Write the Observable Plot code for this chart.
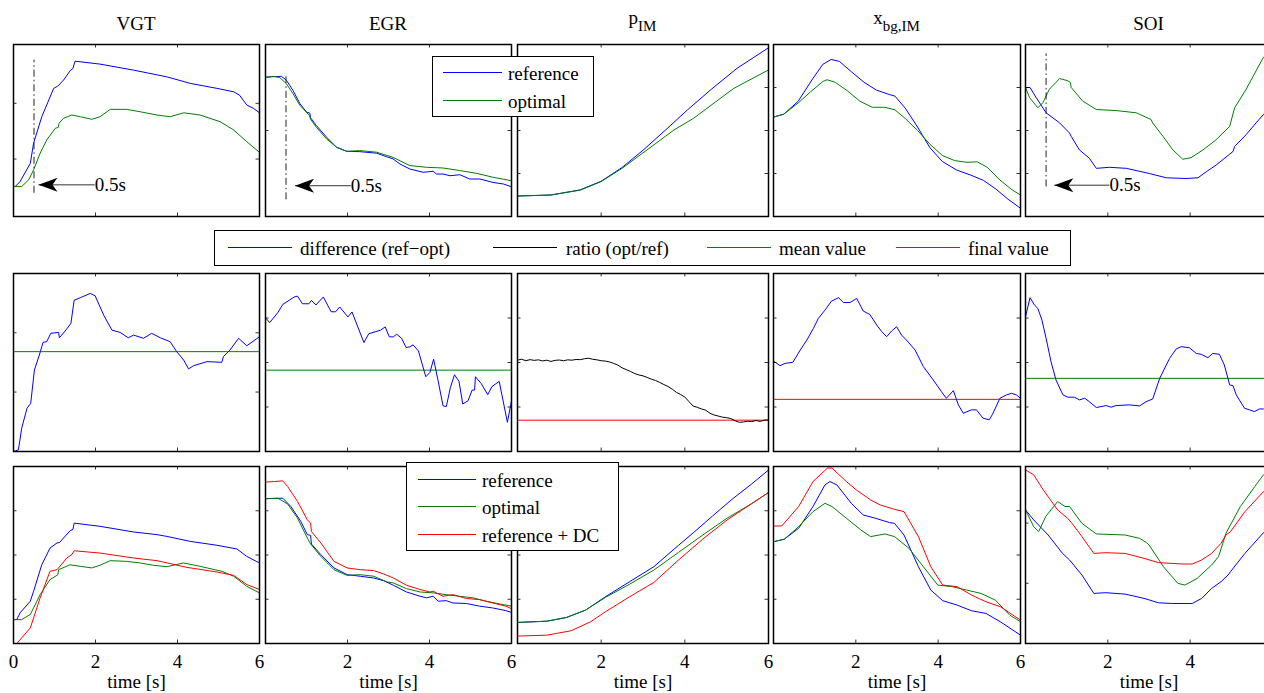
<!DOCTYPE html>
<html><head><meta charset="utf-8">
<script src="https://cdn.jsdelivr.net/npm/d3@7"></script>
<script src="https://cdn.jsdelivr.net/npm/@observablehq/plot@0.6"></script>
<style>
html,body{margin:0;padding:0;background:#fff;}
#fig{position:relative;width:1264px;height:693px;overflow:hidden;font-family:"Liberation Serif","Times New Roman",serif;color:#000;background:#fff;}
.title{position:absolute;font-size:19px;line-height:19px;white-space:nowrap;transform:translateX(-50%);}
.sub{font-size:15px;position:relative;top:7px;}
.legend{position:absolute;background:#fff;border:1px solid #000;box-sizing:border-box;}
.swatch{position:absolute;height:1px;}
.ltext{position:absolute;font-size:19px;line-height:19px;white-space:nowrap;}
</style></head><body><div id="fig"></div><script>
// ---------------- data (time [s], normalized signal 0..100) ----------------
const columnTitles = ["VGT", "EGR", "p|IM", "x|bg,IM", "SOI"];

// row 1: reference vs optimal
const vgtRef = [[0,17.4],[0.05,17.6],[0.16,20.3],[0.41,30.9],[0.49,42.6],[0.69,58.0],[0.98,74.5],[1.08,75.8],[1.22,79.3],[1.38,84.7],[1.45,86.1],[1.50,90.3],[2.11,88.6],[2.93,85.1],[3.74,81.2],[4.31,77.4],[4.96,74.5],[5.37,72.5],[5.51,70.6],[5.69,64.8],[5.85,62.9],[6.0,60.3]];
const vgtOpt = [[0,17.4],[0.2,17.4],[0.37,21.3],[0.49,27.1],[0.65,36.8],[0.81,44.5],[1.02,51.3],[1.09,51.8],[1.11,54.2],[1.22,57.1],[1.42,59.0],[1.63,58.0],[1.91,56.5],[2.11,58.0],[2.36,62.3],[2.76,62.3],[3.09,60.9],[3.50,59.0],[3.82,58.0],[4.15,60.3],[4.55,59.0],[5.04,55.1],[5.37,50.3],[5.69,43.5],[6.0,37.3]];
const egrRef = [[0,81.1],[0.39,81.5],[0.51,79.2],[0.67,73.3],[0.84,65.6],[1.0,60.7],[1.08,60.1],[1.10,57.4],[1.24,52.9],[1.49,46.1],[1.73,40.3],[1.98,37.9],[2.30,37.7],[2.71,36.8],[2.95,34.8],[3.11,33.5],[3.28,30.5],[3.52,27.6],[3.85,25.7],[4.09,26.3],[4.17,24.7],[4.33,24.7],[4.50,23.7],[4.74,24.3],[4.98,21.8],[5.23,21.8],[5.55,19.8],[5.80,18.9],[6.0,17.3]];
const egrOpt = [[0,80.7],[0.19,81.5],[0.35,80.7],[0.51,77.2],[0.67,71.4],[0.84,64.6],[1.07,58.8],[1.10,56.5],[1.24,51.9],[1.49,45.1],[1.73,40.3],[1.98,37.9],[2.30,38.3],[2.71,37.4],[3.11,34.4],[3.52,29.6],[3.93,28.6],[4.33,28.2],[4.74,26.7],[5.15,25.1],[5.55,22.8],[6.0,20.8]];
const pimRef = [[0,11.9],[0.8,12.5],[1.5,15.5],[2.0,20.5],[2.5,28.5],[3.0,38.5],[3.54,50.3],[4.06,61.9],[4.61,73.5],[5.25,86.2],[6.0,98.1]];
const pimOpt = [[0,11.9],[0.8,12.5],[1.5,15.3],[2.0,20.3],[2.5,28.0],[3.0,37.0],[3.74,50.3],[4.21,57.1],[5.17,74.5],[6.0,85.2]];
const xbgRef = [[0,57.8],[0.25,59.5],[0.6,67],[0.95,80],[1.2,88.5],[1.4,91.3],[1.6,90.2],[1.9,84],[2.2,78],[2.5,73.5],[2.8,71],[2.95,70],[3.2,63],[3.5,52],[3.8,40],[4.1,32],[4.45,27],[4.8,24],[5.1,21],[5.4,16],[5.7,10],[6,4.8]];
const xbgOpt = [[0,57.8],[0.25,59.5],[0.6,66],[0.9,72.5],[1.2,78.5],[1.3,79.5],[1.5,78],[1.8,73],[2.1,67],[2.4,63.5],[2.7,63.5],[2.95,62],[3.2,57],[3.5,50],[3.8,42],[4.1,35.5],[4.4,32.5],[4.7,31.5],[4.95,31.8],[5.2,28.5],[5.5,21.2],[5.8,15.4],[6,12.5]];
const soiRef = [[0,75],[0.11,75],[0.26,69.1],[0.50,60.3],[0.83,54.4],[1.07,48.5],[1.11,46.6],[1.31,38.7],[1.55,33.9],[1.72,28.0],[2.04,28.6],[2.45,28.0],[3.01,25.0],[3.42,22.5],[3.90,22.1],[4.19,22.5],[4.39,26.0],[4.63,29.9],[5.04,37.8],[5.08,40.7],[5.36,47.6],[5.60,54.4],[5.78,59.3],[6,65]];
const soiOpt = [[0,75],[0.1,69.1],[0.30,63.2],[0.42,66.1],[0.58,74.0],[0.83,80.2],[1.03,78.9],[1.09,77.9],[1.11,75],[1.39,67.1],[1.72,62.2],[2.20,61.6],[2.69,60.3],[3.05,56.4],[3.09,54.4],[3.34,46.6],[3.58,38.7],[3.82,33.3],[4.02,34.2],[4.31,38.7],[4.63,44.6],[4.96,52.4],[5.08,63.2],[5.36,74.0],[5.78,92.6],[6,97]];

// row 2: difference / ratio with mean or final value
const vgtDiff = [[0,0],[0.12,0.9],[0.2,13.1],[0.33,24.3],[0.42,27.1],[0.51,45.8],[0.63,54.2],[0.72,61.3],[0.81,61.7],[0.91,66.4],[1.10,66.9],[1.12,63.9],[1.26,67.7],[1.40,72.0],[1.48,85.0],[1.63,86.4],[1.87,88.8],[1.99,87.5],[2.20,76.6],[2.40,68.2],[2.60,66.9],[2.80,63.9],[2.93,65.4],[3.17,63.6],[3.37,66.4],[3.58,63.9],[3.82,61.7],[3.98,56.1],[4.15,51.4],[4.27,46.4],[4.39,48.2],[4.72,50.5],[5.08,50.1],[5.12,53.3],[5.28,57.0],[5.49,63.6],[5.69,59.4],[6.0,64.5]];
const vgtMean = 56.1;
const egrDiff = [[0,75.2],[0.10,72.4],[0.30,78.0],[0.42,82.6],[0.70,86.8],[0.78,87.3],[0.90,83.0],[1.06,83.0],[1.12,84.9],[1.23,82.3],[1.41,86.8],[1.60,78.5],[1.71,78.5],[1.81,81.2],[2.01,75.6],[2.11,78.4],[2.40,61.2],[2.52,66.2],[2.80,68.1],[2.92,70.0],[3.02,64.4],[3.12,64.4],[3.20,65.9],[3.32,63.6],[3.43,58.4],[3.52,58.8],[3.60,59.9],[3.73,56.5],[3.91,42.0],[4.01,44.4],[4.10,51.9],[4.21,39.7],[4.33,25.7],[4.41,25.2],[4.51,36.0],[4.61,43.1],[4.72,39.4],[4.81,26.7],[4.94,28.5],[5.04,34.5],[5.10,34.5],[5.12,42.0],[5.26,38.2],[5.42,31.9],[5.52,36.4],[5.70,39.4],[5.90,16.4],[6.0,28.5]];
const egrMean = 45.7;
const pimRatio = [[0,51.4],[0.1,51.8],[0.2,51.0],[0.3,51.6],[0.4,51.2],[0.5,51.5],[0.6,50.9],[0.7,51.3],[0.8,50.6],[0.9,51.2],[1.0,51.4],[1.1,51.0],[1.2,51.5],[1.3,51.3],[1.4,51.7],[1.5,51.6],[1.6,52.1],[1.7,52.4],[1.8,51.8],[1.9,51.5],[2.0,51.0],[2.1,50.8],[2.2,50.3],[2.3,49.5],[2.4,48.5],[2.5,47.0],[2.6,46.0],[2.7,45.0],[2.8,43.8],[2.9,43.0],[3.0,42.5],[3.1,41.6],[3.2,40.6],[3.3,39.9],[3.4,38.8],[3.5,37.6],[3.6,36.5],[3.7,35.0],[3.8,33.2],[3.9,32.0],[4.0,30.6],[4.1,28.0],[4.2,25.5],[4.3,24.8],[4.4,23.9],[4.5,23.2],[4.6,21.5],[4.7,20.5],[4.8,19.9],[4.9,19.3],[5.0,19.0],[5.1,18.5],[5.2,17.3],[5.3,16.4],[5.4,16.6],[5.5,17.0],[5.6,16.8],[5.7,17.4],[5.8,16.9],[5.9,17.6],[6.0,17.8]];
const pimFinal = 17.6;
const xbgDiff = [[0,50.8],[0.16,48.2],[0.28,49.5],[0.47,50.1],[0.65,57.0],[0.81,62.6],[0.97,69.2],[1.09,74.8],[1.25,79.4],[1.41,84.5],[1.58,86.4],[1.70,83.7],[1.86,83.7],[2.02,86.0],[2.18,78.9],[2.34,77.0],[2.51,71.0],[2.63,67.3],[2.75,64.5],[2.87,67.7],[2.99,70.1],[3.11,65.4],[3.23,62.6],[3.44,57.0],[3.64,47.7],[3.88,40.2],[4.08,33.6],[4.20,29.9],[4.37,34.2],[4.49,26.2],[4.61,21.5],[4.81,23.4],[4.93,23.4],[5.09,18.7],[5.24,17.8],[5.32,20.9],[5.50,29.9],[5.66,31.8],[5.78,32.7],[5.90,31.8],[6.0,29.9]];
const xbgFinal = 29.3;
const soiDiff = [[0,75.7],[0.11,86.4],[0.22,82.2],[0.30,80.4],[0.40,73.8],[0.50,63.6],[0.62,50.5],[0.74,40.2],[0.91,31.8],[1.03,30.5],[1.19,30.5],[1.31,29.0],[1.44,29.9],[1.55,28.0],[1.72,24.7],[1.96,25.8],[2.08,24.9],[2.20,25.8],[2.53,26.2],[2.77,25.6],[2.93,28.0],[3.09,29.5],[3.26,41.1],[3.50,52.3],[3.66,57.6],[3.78,58.9],[3.98,58.3],[4.15,55.1],[4.27,54.6],[4.43,52.7],[4.55,55.1],[4.71,54.6],[4.83,48.6],[4.96,37.4],[5.04,37.0],[5.12,31.8],[5.32,24.3],[5.44,23.4],[5.56,22.4],[5.68,23.9],[5.78,23.9],[6,24.0]];
const soiMean = 41.1;

// row 3: reference, optimal, reference + DC
const vgt3Ref = [[0,13.5],[0.08,13.5],[0.16,17.3],[0.41,23.9],[0.49,29.5],[0.69,44.5],[0.89,53.9],[1.06,56.8],[1.12,57.0],[1.22,59.6],[1.38,63.7],[1.45,64.5],[1.48,68.0],[2.11,66.2],[2.93,63.0],[3.50,61.5],[3.74,60.5],[4.31,57.7],[4.96,55.5],[5.45,53.4],[5.69,49.2],[6,45.5]];
const vgt3Opt = [[0,13.5],[0.2,13.5],[0.41,16.4],[0.65,27.6],[0.89,36.1],[1.06,38.5],[1.08,38.8],[1.10,41.7],[1.38,44.5],[1.63,43.6],[1.91,42.7],[2.11,44.2],[2.36,46.8],[2.76,46.4],[3.09,45.5],[3.41,44.2],[3.74,43.4],[4.15,45.5],[4.55,43.6],[5.08,40.8],[5.37,38.0],[5.69,32.3],[6,28.6]];
const vgt3Dc = [[0,-3],[0.08,0],[0.41,8.8],[0.65,25.8],[0.89,40.8],[1.06,41.7],[1.10,42.7],[1.30,48.3],[1.42,50.2],[1.48,52.4],[2.11,51.1],[2.93,48.3],[3.50,46.8],[4.23,43.0],[4.96,40.4],[5.37,38.5],[5.69,33.3],[6,30.5]];
const egr3Ref = [[0,81.8],[0.42,82.1],[0.62,77.4],[0.86,69.0],[1.02,61.5],[1.10,61.1],[1.12,56.2],[1.35,50.2],[1.67,42.7],[1.99,38.9],[2.31,38.0],[2.64,37.0],[2.88,35.5],[3.12,32.9],[3.44,29.1],[3.77,26.7],[3.93,25.8],[4.09,26.7],[4.21,23.9],[4.41,24.2],[4.57,22.9],[4.90,22.6],[5.22,21.1],[5.54,20.1],[5.86,18.6],[6,17.5]];
const egr3Opt = [[0,81.8],[0.30,82.1],[0.54,78.8],[0.78,70.9],[1.02,59.6],[1.10,56.2],[1.35,49.2],[1.67,41.7],[1.99,38.5],[2.31,38.9],[2.64,38.0],[2.96,34.8],[3.12,34.2],[3.44,31.0],[3.77,29.1],[4.09,28.6],[4.41,27.6],[4.73,26.7],[5.06,25.8],[5.38,23.9],[5.70,22.4],[6,21.1]];
const egr3Dc = [[0,91.2],[0.22,91.5],[0.42,91.9],[0.54,88.7],[0.78,80.3],[1.02,69.9],[1.10,68.0],[1.12,63.3],[1.35,56.8],[1.67,46.4],[1.99,42.7],[2.31,41.7],[2.64,41.2],[2.88,39.3],[3.12,37.0],[3.44,32.9],[3.77,30.5],[4.01,29.1],[4.09,29.5],[4.33,26.7],[4.57,27.6],[4.90,25.4],[5.22,24.8],[5.54,22.9],[5.86,21.1],[6,19.7]];
const pim3Ref = [[0,11.9],[0.70,12.6],[1.17,14.7],[1.63,18.9],[2.10,26.4],[2.68,34.9],[3.26,43.4],[3.85,55.5],[4.20,62.5],[4.66,72.0],[5.13,81.5],[5.59,90.0],[6,98.0]];
const pim3Opt = [[0,11.9],[0.70,12.6],[1.17,14.7],[1.63,18.9],[2.10,26.0],[2.68,33.5],[3.26,41.5],[3.85,51.5],[4.43,61.3],[5.01,70.8],[5.59,78.9],[6,85.3]];
const pim3Dc = [[0,4.2],[0.70,4.7],[1.28,7.2],[1.75,12.3],[2.10,17.9],[2.68,26.4],[3.26,34.5],[3.85,47.2],[4.43,59.0],[5.01,69.8],[5.59,78.9],[6,85.3]];
const xbg3Ref = [[0,57.5],[0.26,58.9],[0.61,65.1],[0.96,77.4],[1.25,89.6],[1.37,91.5],[1.54,89.6],[1.89,79.2],[2.18,72.6],[2.47,70.8],[2.82,68.3],[2.94,67.9],[3.17,61.3],[3.52,43.4],[3.82,30.2],[4.11,24.2],[4.46,21.7],[4.81,18.5],[5.16,17.0],[5.51,12.3],[6,4.7]];
const xbg3Opt = [[0,57.5],[0.26,58.9],[0.61,66.0],[0.96,74.5],[1.25,79.2],[1.42,77.4],[1.77,70.8],[2.12,64.2],[2.36,60.4],[2.71,61.9],[2.94,60.4],[3.29,53.8],[3.64,43.4],[3.99,33.0],[4.34,32.1],[4.69,30.2],[5.04,28.3],[5.39,24.5],[5.74,16.0],[6,12.3]];
const xbg3Dc = [[0,66.4],[0.20,66.4],[0.61,77.4],[0.96,91.5],[1.31,99.1],[1.42,99.1],[1.77,91.5],[2.01,86.8],[2.36,81.1],[2.59,78.3],[2.94,75.8],[3.17,74.5],[3.52,60.4],[3.82,43.4],[4.11,33.0],[4.46,32.1],[4.81,27.4],[5.16,23.6],[5.51,20.8],[6,13.2]];
const soi3Ref = [[0,75.5],[0.20,69.8],[0.55,61.3],[0.90,50.9],[1.07,47.2],[1.37,38.7],[1.66,28.3],[1.95,28.7],[2.42,27.9],[2.88,25.5],[3.23,23.0],[3.58,22.6],[4.05,22.6],[4.28,25.5],[4.52,31.1],[4.75,34.9],[4.92,38.7],[4.98,40.6],[5.33,50.9],[5.78,62.6],[6,68]];
const soi3Opt = [[0,75.5],[0.20,66.0],[0.32,63.2],[0.49,71.7],[0.78,80.2],[0.96,77.4],[1.07,77.4],[1.37,67.9],[1.72,61.9],[2.42,61.3],[2.77,59.4],[2.94,57.0],[3.0,55.7],[3.35,43.4],[3.70,34.0],[3.87,33.0],[4.17,36.8],[4.52,44.3],[4.69,49.1],[4.87,62.3],[5.22,77.4],[5.57,88.7],[5.78,95.3],[6,99]];
const soi3Dc = [[0,98.1],[0.20,95.3],[0.43,86.8],[0.78,75.5],[1.02,70.8],[1.13,67.9],[1.37,60.4],[1.66,50.9],[1.95,51.3],[2.42,50.9],[2.88,48.1],[3.23,45.7],[3.82,44.9],[4.05,44.9],[4.28,47.2],[4.52,50.9],[4.75,56.6],[4.87,61.3],[4.98,63.2],[5.33,74.5],[5.78,85.8],[6,90]];

// tick values
const xTickMarks = [2, 4];
const xTickLabelsFirst = [0, 2, 4, 6];
const xTickLabelsOther = [2, 4, 6];
const yTicksRow1 = [[33.4, 65.8], [50], [25, 50, 75], [25, 50, 75], [25, 50, 75]];
const yTicksRow2 = [[33.4, 66.7], [25, 50, 75], [25, 50, 75], [25, 50, 75], [25, 50, 75]];
const yTicksRow3 = [[25, 50, 75], [25, 50, 75], [25, 50, 75], [25, 50, 75], [34, 68]];

// 0.5 s annotation (VGT, EGR, SOI in row 1)
const cueColumns = [0, 1, 4];
const cueTime = [0.5, 0.5, 0.5];
const cueSpan = [[13.5, 90.9], [9.7, 82.1], [17.2, 94.5]];
const cueTip = [0.61, 0.72, 0.70];
const cueLevel = [18.4, 17.9, 18.2];
const cueTextAt = [1.98, 2.08, 2.04];
const cueLabel = "0.5s";

// legends
const legendTop = ["reference", "optimal"];
const legendMid = ["difference (ref\u2212opt)", "ratio (opt/ref)", "mean value", "final value"];
const legendBottom = ["reference", "optimal", "reference + DC"];
const xLabel = "time [s]";

// ---------------- layout & style ----------------
const BLUE = "#0000ff", GREEN = "#008000", RED = "#ff0000", BLACK = "#000000";
const colLeft = [13, 265, 517, 773, 1025];
const colWidth = [246, 246, 251, 247, 247];
const rowTop = [44, 273, 466];
const rowHeight = [172, 178, 177];
const M = 4, TICK = 3.5;
const FONT = '"Liberation Serif", "Times New Roman", serif';
const fig = document.getElementById("fig");

const arrowHead = {draw(ctx) {
  ctx.moveTo(0, 0); ctx.lineTo(19, -7); ctx.lineTo(14, 0); ctx.lineTo(19, 7); ctx.closePath();
}};

function panel(row, col, series, rules, yTicks) {
  const w = colWidth[col], h = rowHeight[row];
  const marks = [];
  for (const r of rules) marks.push(Plot.ruleY([r[0]], {stroke: r[1], strokeWidth: 1}));
  for (const s of series) marks.push(Plot.line(s[0], {x: d => d[0], y: d => d[1], stroke: s[1], strokeWidth: 1, clip: true}));
  const ci = row === 0 ? cueColumns.indexOf(col) : -1;
  if (ci >= 0) {
    const cue = [{t: cueTime[ci], lo: cueSpan[ci][0], hi: cueSpan[ci][1], tip: cueTip[ci], y: cueLevel[ci], tx: cueTextAt[ci]}];
    marks.push(Plot.ruleX(cue, {x: "t", y1: "lo", y2: "hi", stroke: "#222", strokeWidth: 1, strokeDasharray: "7,3,1.5,3"}));
    marks.push(Plot.link(cue, {x1: "tip", x2: "tx", y1: "y", y2: "y", stroke: "#333", strokeWidth: 1}));
    marks.push(Plot.dot(cue, {x: "tip", y: "y", symbol: arrowHead, fill: "black", stroke: "none"}));
    marks.push(Plot.text(cue, {x: "tx", y: "y", text: () => cueLabel, textAnchor: "start", fontSize: 19, fontFamily: FONT}));
  }
  marks.push(Plot.tickX(xTickMarks, {insetTop: h - TICK, stroke: "black", strokeWidth: 0.8}));
  marks.push(Plot.tickX(xTickMarks, {insetBottom: h - TICK, stroke: "black", strokeWidth: 0.8}));
  marks.push(Plot.tickY(yTicks, {insetRight: w - TICK, stroke: "black", strokeWidth: 0.8}));
  marks.push(Plot.tickY(yTicks, {insetLeft: w - TICK, stroke: "black", strokeWidth: 0.8}));
  marks.push(Plot.frame({stroke: "black", strokeWidth: 1.5}));
  const bottom = row === 2;
  if (bottom) {
    marks.push(Plot.axisX(col === 0 ? xTickLabelsFirst : xTickLabelsOther, {anchor: "bottom", tickSize: 0, tickPadding: 10.5, fontSize: 19, fontFamily: FONT, label: null}));
    marks.push(Plot.text([xLabel], {frameAnchor: "bottom", dy: 44, text: d => d, fontSize: 19, fontFamily: FONT}));
  }
  const svg = Plot.plot({
    width: w + 2 * M, height: h + 2 * M,
    marginLeft: M, marginRight: M, marginTop: M, marginBottom: M,
    x: {domain: [0, 6], ...(bottom ? {} : {axis: null})},
    y: {domain: [0, 100], axis: null},
    style: {background: "transparent", overflow: "visible", fontFamily: FONT, fontSize: "19px", color: "black"},
    marks
  });
  svg.style.position = "absolute";
  svg.style.left = (colLeft[col] - M) + "px";
  svg.style.top = (rowTop[row] - M) + "px";
  fig.appendChild(svg);
}

const row1 = [[[vgtRef, BLUE], [vgtOpt, GREEN]], [[egrRef, BLUE], [egrOpt, GREEN]], [[pimRef, BLUE], [pimOpt, GREEN]], [[xbgRef, BLUE], [xbgOpt, GREEN]], [[soiRef, BLUE], [soiOpt, GREEN]]];
const row2 = [[[vgtDiff, BLUE]], [[egrDiff, BLUE]], [[pimRatio, BLACK]], [[xbgDiff, BLUE]], [[soiDiff, BLUE]]];
const row2Rules = [[[vgtMean, GREEN]], [[egrMean, GREEN]], [[pimFinal, RED]], [[xbgFinal, RED]], [[soiMean, GREEN]]];
const row3 = [[[vgt3Ref, BLUE], [vgt3Opt, GREEN], [vgt3Dc, RED]], [[egr3Ref, BLUE], [egr3Opt, GREEN], [egr3Dc, RED]], [[pim3Ref, BLUE], [pim3Opt, GREEN], [pim3Dc, RED]], [[xbg3Ref, BLUE], [xbg3Opt, GREEN], [xbg3Dc, RED]], [[soi3Ref, BLUE], [soi3Opt, GREEN], [soi3Dc, RED]]];

for (let c = 0; c < 5; c++) {
  panel(0, c, row1[c], [], yTicksRow1[c]);
  panel(1, c, row2[c], row2Rules[c], yTicksRow2[c]);
  panel(2, c, row3[c], [], yTicksRow3[c]);
}

// titles
columnTitles.forEach((t, c) => {
  const d = document.createElement("div");
  d.className = "title";
  const [main, sub] = t.split("|");
  d.style.left = (colLeft[c] + colWidth[c] / 2) + "px";
  if (sub) {
    d.style.top = (24 - 15.9) + "px";
    d.innerHTML = main + '<span class="sub">' + sub + "</span>";
  } else {
    d.style.top = (30 - 15.9) + "px";
    d.textContent = main;
  }
  fig.appendChild(d);
});

// legends
function legend(box, items) {
  const b = document.createElement("div");
  b.className = "legend";
  Object.assign(b.style, {left: box[0] + "px", top: box[1] + "px", width: (box[2] - box[0]) + "px", height: (box[3] - box[1]) + "px"});
  fig.appendChild(b);
  for (const it of items) {
    const s = document.createElement("div");
    s.className = "swatch";
    s.style.left = it.x1 + "px";
    s.style.width = (it.x2 - it.x1) + "px";
    s.style.top = (it.y - 0.5) + "px";
    s.style.background = it.color;
    fig.appendChild(s);
    const t = document.createElement("div");
    t.className = "ltext";
    t.textContent = it.label;
    Object.assign(t.style, {left: it.tx + "px", top: (it.y + 7.5 - 15.9) + "px"});
    fig.appendChild(t);
  }
}
legend([432, 56, 594, 117], [
  {x1: 443, x2: 502, y: 72.7, tx: 508, color: BLUE, label: legendTop[0]},
  {x1: 443, x2: 502, y: 100, tx: 508, color: GREEN, label: legendTop[1]}
]);
legend([214, 230, 1071, 266], [
  {x1: 228, x2: 292, y: 247.7, tx: 300, color: BLUE, label: legendMid[0]},
  {x1: 493, x2: 557, y: 247.7, tx: 566, color: BLACK, label: legendMid[1]},
  {x1: 707, x2: 771, y: 247.7, tx: 779, color: GREEN, label: legendMid[2]},
  {x1: 896, x2: 960, y: 247.7, tx: 968, color: RED, label: legendMid[3]}
]);
legend([406, 462, 619, 551], [
  {x1: 418, x2: 476, y: 479, tx: 482, color: BLUE, label: legendBottom[0]},
  {x1: 418, x2: 476, y: 506.7, tx: 482, color: GREEN, label: legendBottom[1]},
  {x1: 418, x2: 476, y: 534, tx: 482, color: RED, label: legendBottom[2]}
]);
</script></body></html>
